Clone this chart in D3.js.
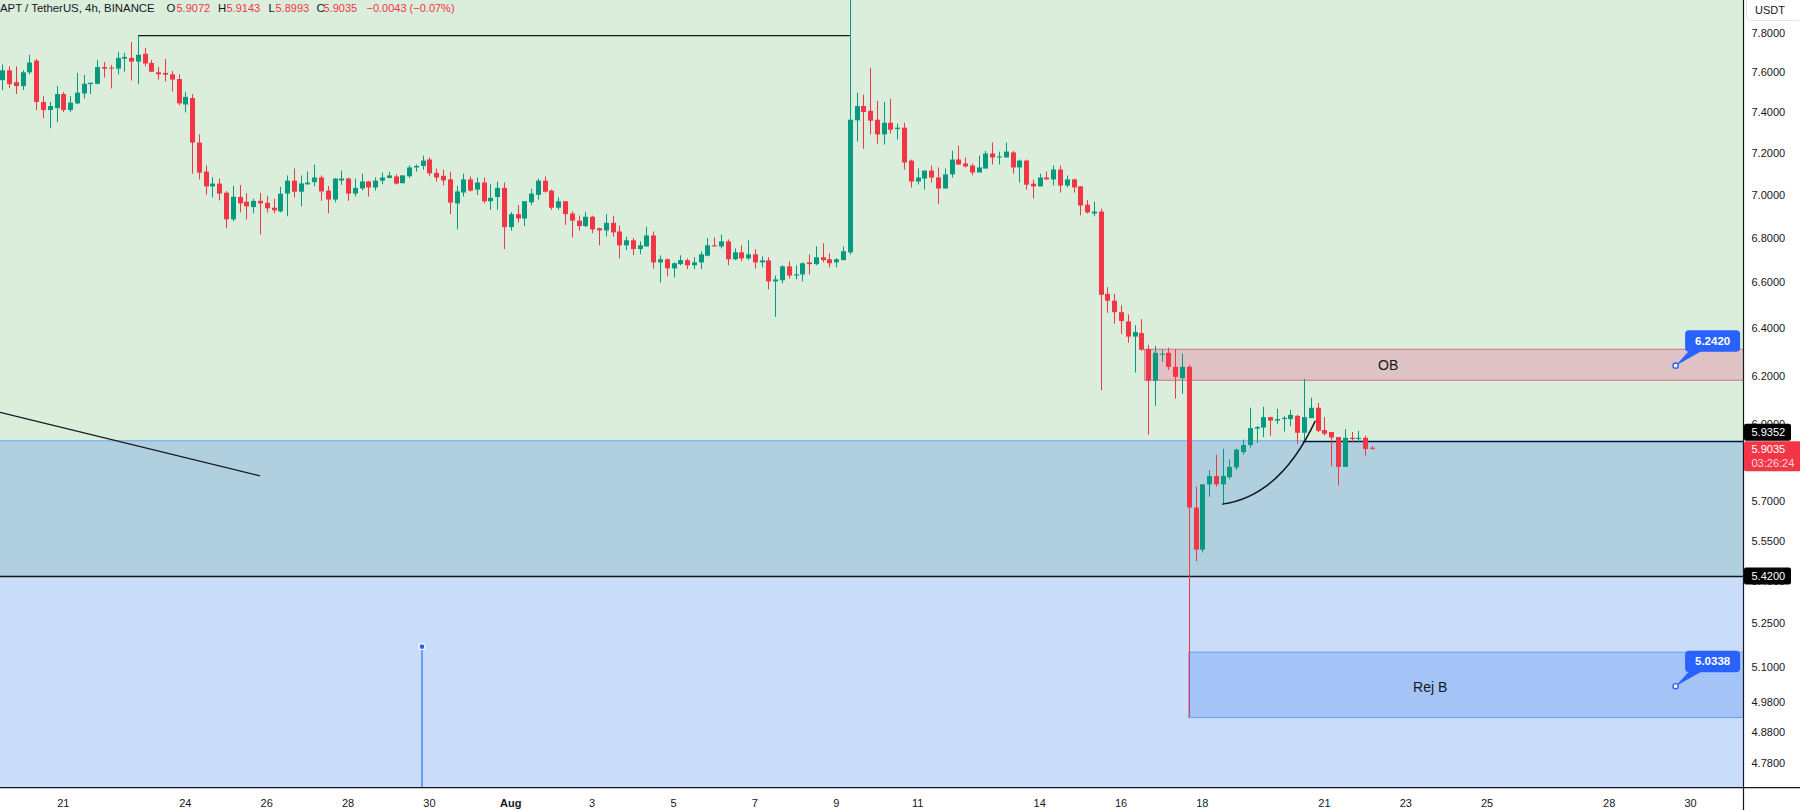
<!DOCTYPE html>
<html><head><meta charset="utf-8">
<script src="https://cdn.jsdelivr.net/npm/d3@7"></script>
<style>
body{margin:0;background:#fff;}
svg{display:block;font-family:"Liberation Sans",Arial,sans-serif;}
</style>
</head><body>
<svg id="chart" width="1800" height="810"></svg>
<script>
// ---------------- DATA ----------------
const firstBar = Date.UTC(2023, 6, 19, 12); // first visible 4h candle
const barHours = 4;
const opens = [
7.56,7.61,7.55,7.53,7.60,7.66,7.45,7.41,7.42,7.49,
7.41,7.443,7.493,7.54,7.542,7.627,7.624,7.619,7.67,7.674,
7.655,7.695,7.648,7.60,7.597,7.59,7.566,7.438,7.47,7.25,
7.11,7.04,7.053,7.01,6.886,6.99,6.968,6.943,6.972,6.963,
6.94,6.923,7.006,7.067,7.015,7.05,7.06,7.082,7.02,6.978,
7.068,7.077,7.006,7.03,7.063,7.035,7.067,7.08,7.087,7.055,
7.088,7.13,7.137,7.168,7.104,7.09,7.073,6.96,7.011,7.073,
7.025,7.058,6.97,6.99,7.033,6.85,6.91,6.89,6.965,7.0,
7.067,7.02,6.94,6.97,6.913,6.88,6.855,6.898,6.845,6.835,
6.87,6.83,6.767,6.79,6.75,6.762,6.812,6.69,6.704,6.663,
6.682,6.70,6.677,6.69,6.72,6.767,6.762,6.785,6.704,6.735,
6.708,6.726,6.69,6.699,6.605,6.61,6.672,6.631,6.636,6.69,
6.682,6.713,6.704,6.69,6.70,6.735,7.359,7.43,7.406,7.362,
7.29,7.347,7.316,7.323,7.163,7.063,7.077,7.115,7.082,7.03,
7.097,7.168,7.149,7.139,7.106,7.125,7.197,7.18,7.178,7.202,
7.13,7.163,7.053,7.04,7.082,7.073,7.12,7.044,7.073,7.04,
6.954,6.913,6.922,6.55,6.52,6.47,6.43,6.365,6.38,6.312,
6.18,6.289,6.296,6.237,6.19,6.237,5.675,5.517,5.764,5.796,
5.764,5.792,5.83,5.89,5.918,5.984,5.988,6.03,6.016,6.022,
6.022,6.035,5.967,6.026,6.068,5.978,5.97,5.95,5.832,5.947,
5.942,5.947,5.9072];
const highs = [
7.64,7.63,7.63,7.61,7.69,7.67,7.48,7.45,7.53,7.50,
7.48,7.597,7.587,7.547,7.663,7.653,7.637,7.705,7.70,7.756,
7.79,7.726,7.664,7.627,7.669,7.607,7.59,7.50,7.49,7.29,
7.139,7.082,7.077,7.018,7.042,7.046,7.009,6.982,7.009,6.995,
6.982,7.037,7.092,7.125,7.092,7.11,7.144,7.092,7.042,7.08,
7.115,7.082,7.077,7.10,7.066,7.082,7.106,7.11,7.097,7.092,
7.14,7.144,7.187,7.178,7.125,7.12,7.11,7.042,7.10,7.087,
7.082,7.082,7.05,7.063,7.058,6.92,6.952,6.97,7.028,7.077,
7.087,7.025,6.988,6.97,6.923,6.904,6.92,6.903,6.848,6.91,
6.903,6.857,6.806,6.80,6.785,6.852,6.83,6.722,6.708,6.69,
6.722,6.708,6.713,6.74,6.80,6.803,6.816,6.794,6.753,6.767,
6.79,6.749,6.717,6.713,6.631,6.677,6.695,6.677,6.69,6.726,
6.762,6.776,6.731,6.708,6.762,8.02,7.497,7.487,7.622,7.456,
7.45,7.466,7.342,7.347,7.168,7.125,7.115,7.139,7.13,7.125,
7.21,7.234,7.178,7.149,7.187,7.21,7.25,7.206,7.25,7.21,
7.168,7.168,7.072,7.10,7.11,7.139,7.139,7.092,7.077,7.04,
6.976,6.968,6.936,6.58,6.55,6.50,6.46,6.414,6.44,6.33,
6.325,6.31,6.317,6.31,6.292,6.245,5.756,5.764,5.82,5.88,
5.904,5.86,5.904,5.94,6.068,5.994,6.072,6.03,6.064,6.035,
6.06,6.039,6.187,6.109,6.088,6.03,5.97,5.95,5.982,5.97,
5.975,5.955,5.9143];
const lows = [
7.51,7.52,7.49,7.51,7.59,7.41,7.37,7.32,7.35,7.40,
7.40,7.44,7.468,7.49,7.538,7.573,7.518,7.59,7.603,7.558,
7.54,7.631,7.603,7.563,7.553,7.503,7.433,7.398,7.10,7.073,
7.001,6.988,6.974,6.845,6.877,6.918,6.886,6.914,6.817,6.918,
6.914,6.918,6.90,6.988,6.946,7.047,7.04,6.972,6.914,6.965,
7.047,6.972,6.992,7.021,6.992,7.02,7.05,7.078,7.048,7.055,
7.08,7.11,7.12,7.088,7.063,7.044,6.91,6.84,6.992,7.015,
7.0,6.96,6.93,6.93,6.75,6.834,6.872,6.855,6.952,6.978,
7.01,6.93,6.93,6.86,6.803,6.834,6.85,6.822,6.767,6.806,
6.806,6.708,6.745,6.722,6.727,6.762,6.662,6.60,6.627,6.622,
6.677,6.66,6.66,6.66,6.717,6.762,6.753,6.677,6.70,6.695,
6.70,6.662,6.668,6.57,6.45,6.596,6.618,6.614,6.605,6.636,
6.677,6.69,6.668,6.668,6.70,6.725,7.255,7.22,7.29,7.245,
7.24,7.294,7.265,7.12,7.035,7.048,7.025,7.058,6.958,7.03,
7.082,7.144,7.13,7.092,7.106,7.125,7.144,7.144,7.178,7.10,
7.058,7.025,6.983,7.04,7.073,7.044,7.01,7.035,7.01,6.904,
6.913,6.90,6.14,6.467,6.42,6.376,6.339,6.213,6.305,5.959,
6.076,6.258,6.224,6.105,6.125,4.93,5.474,5.506,5.716,5.756,
5.685,5.784,5.82,5.88,5.908,5.926,5.95,5.955,6.002,5.972,
5.994,5.923,5.93,6.026,5.97,5.955,5.835,5.76,5.832,5.93,
5.93,5.876,5.8993];
const closes = [
7.61,7.54,7.53,7.60,7.65,7.45,7.41,7.43,7.49,7.41,
7.447,7.497,7.542,7.547,7.627,7.619,7.619,7.674,7.679,7.655,
7.69,7.645,7.603,7.59,7.588,7.563,7.443,7.476,7.25,7.105,
7.04,7.053,7.006,6.886,6.991,6.96,6.946,6.972,6.96,6.937,
6.928,7.005,7.067,7.015,7.054,7.058,7.082,7.016,6.978,7.077,
7.077,7.006,7.033,7.063,7.035,7.067,7.082,7.092,7.053,7.092,
7.13,7.137,7.163,7.102,7.082,7.068,6.964,7.016,7.073,7.02,
7.058,6.97,6.986,7.033,6.85,6.91,6.89,6.97,7.006,7.067,
7.015,6.94,6.97,6.91,6.88,6.855,6.898,6.84,6.835,6.87,
6.826,6.767,6.79,6.75,6.767,6.812,6.69,6.704,6.663,6.686,
6.70,6.677,6.69,6.726,6.767,6.762,6.785,6.704,6.735,6.708,
6.726,6.69,6.699,6.605,6.614,6.672,6.631,6.636,6.686,6.682,
6.713,6.70,6.686,6.704,6.74,7.362,7.43,7.40,7.357,7.29,
7.347,7.313,7.323,7.154,7.063,7.082,7.115,7.082,7.03,7.097,
7.168,7.144,7.135,7.106,7.13,7.197,7.178,7.183,7.206,7.13,
7.163,7.048,7.04,7.082,7.073,7.12,7.044,7.073,7.035,6.95,
6.918,6.922,6.546,6.52,6.47,6.432,6.365,6.384,6.309,6.18,
6.296,6.292,6.237,6.195,6.237,5.675,5.517,5.764,5.796,5.764,
5.796,5.832,5.90,5.918,5.986,5.99,6.03,6.016,6.022,6.027,
6.039,5.967,6.03,6.068,5.975,5.963,5.948,5.832,5.947,5.942,
5.947,5.903,5.9035];

const yTickValues = [7.8,7.6,7.4,7.2,7.0,6.8,6.6,6.4,6.2,6.0,5.7,5.55,5.4,5.25,5.1,4.98,4.88,4.78];
const xTickDates = [[6,21],[6,24],[6,26],[6,28],[6,30],[7,1],[7,3],[7,5],[7,7],[7,9],[7,11],[7,14],[7,16],[7,18],[7,21],[7,23],[7,25],[7,28],[7,30]];
const xTickLabels = ["21","24","26","28","30","Aug","3","5","7","9","11","14","16","18","21","23","25","28","30"];

const headerSymbol = "APT / TetherUS, 4h, BINANCE";
const headerOHLC = [["O","5.9072"],["H","5.9143"],["L","5.8993"],["C","5.9035"]];
const headerChange = "\u22120.0043 (\u22120.07%)";

const zoneUpper = 5.9352;      // top of support zone
const zoneLower = 5.42;        // bottom of support zone
const obZone = [6.311, 6.181]; const obStartBar = 168.5; const obLabel = "OB";
const rejZone = [5.15, 4.929]; const rejStartBar = 175; const rejLabel = "Rej B";
const callouts = [{bar: 246.8, price: 6.2420, text: "6.2420"}, {bar: 246.8, price: 5.0338, text: "5.0338"}];
const topLine = {fromBar: 20, toBar: 125, price: 7.79};
const trendLine = [{bar: -0.34, price: 6.049}, {bar: 38.0, price: 5.797}];
const vMarker = {bar: 61.9, price: 5.169};
const arcPts = [{bar: 179.94, price: 5.688}, {bar: 188.45, price: 5.718}, {bar: 193.66, price: 6.015}];
const lineStartBar = 191.8;
const lastPrice = 5.9035, countdown = "03:26:24";

// ---------------- SCALES ----------------
const W = 1743, H = 787.7;
const svg = d3.select("#chart");
const x = d3.scaleUtc()
  .domain([new Date(Date.UTC(2023,6,19,10,38)), new Date(Date.UTC(2023,7,31,6,58))])
  .range([0, W]);
const y = d3.scaleLog().domain([4.7023, 7.978]).range([H, 0]);
const barTime = i => new Date(firstBar + i * barHours * 3600e3);
const bx = i => x(barTime(i));

const GREEN = "#089981", RED = "#f23645";

svg.append("rect").attr("width",1800).attr("height",810).attr("fill","#ffffff");
svg.append("defs").append("clipPath").attr("id","plot")
  .append("rect").attr("x",0).attr("y",0).attr("width",W).attr("height",H);
const plot = svg.append("g").attr("clip-path","url(#plot)");

// background zones
plot.append("rect").attr("x",0).attr("y",0).attr("width",W).attr("height",y(zoneUpper)).attr("fill","#daeedb");
plot.append("rect").attr("x",0).attr("y",y(zoneUpper)).attr("width",W).attr("height",y(zoneLower)-y(zoneUpper)).attr("fill","#b0d0e0");
plot.append("rect").attr("x",0).attr("y",y(zoneLower)).attr("width",W).attr("height",H-y(zoneLower)).attr("fill","#c9ddfa");
plot.append("line").attr("x1",0).attr("x2",W).attr("y1",y(zoneUpper)).attr("y2",y(zoneUpper)).attr("stroke","#6fa8f2").attr("stroke-width",1);

// OB zone
plot.append("rect").attr("x",bx(obStartBar)).attr("y",y(obZone[0])).attr("width",W-bx(obStartBar)+5)
  .attr("height",y(obZone[1])-y(obZone[0])).attr("fill","#dfc2c3").attr("stroke","#d27590").attr("stroke-width",1);
// Rej B zone
plot.append("rect").attr("x",bx(rejStartBar)).attr("y",y(rejZone[0])).attr("width",W-bx(rejStartBar)+5)
  .attr("height",y(rejZone[1])-y(rejZone[0])).attr("fill","#a4c4f8").attr("stroke","#6f9ff0").attr("stroke-width",1);

// lines
plot.append("line").attr("x1",0).attr("x2",W).attr("y1",Math.round(y(zoneLower))+0.5).attr("y2",Math.round(y(zoneLower))+0.5).attr("stroke","#131722").attr("stroke-width",1.3);
plot.append("line").attr("x1",bx(lineStartBar)).attr("x2",W).attr("y1",y(zoneUpper)+0.8).attr("y2",y(zoneUpper)+0.8).attr("stroke","#131722").attr("stroke-width",1.3);
plot.append("line").attr("x1",bx(topLine.fromBar)).attr("x2",bx(topLine.toBar)).attr("y1",y(topLine.price)).attr("y2",y(topLine.price)).attr("stroke","#131722").attr("stroke-width",1.2);
plot.append("line").attr("x1",bx(trendLine[0].bar)).attr("y1",y(trendLine[0].price)).attr("x2",bx(trendLine[1].bar)).attr("y2",y(trendLine[1].price)).attr("stroke","#131722").attr("stroke-width",1.2);

// vertical blue marker
plot.append("line").attr("x1",bx(vMarker.bar)).attr("x2",bx(vMarker.bar)).attr("y1",y(vMarker.price)).attr("y2",H).attr("stroke","#6b9cf6").attr("stroke-width",2);
plot.append("circle").attr("cx",bx(vMarker.bar)).attr("cy",y(vMarker.price)).attr("r",3).attr("fill","#2962ff").attr("stroke","#fff").attr("stroke-width",1.2);

// candles
const idx = d3.range(opens.length);
const bodyW = 5;
plot.append("g").selectAll("line").data(idx).join("line")
  .attr("x1", i => Math.round(bx(i)) + 0.5).attr("x2", i => Math.round(bx(i)) + 0.5)
  .attr("y1", i => y(highs[i])).attr("y2", i => y(lows[i]))
  .attr("stroke", i => closes[i] >= opens[i] ? GREEN : RED).attr("stroke-width", 1);
plot.append("g").selectAll("rect").data(idx).join("rect")
  .attr("x", i => Math.round(bx(i)) - 2)
  .attr("width", bodyW)
  .attr("y", i => y(Math.max(opens[i], closes[i])))
  .attr("height", i => Math.max(1, y(Math.min(opens[i], closes[i])) - y(Math.max(opens[i], closes[i]))))
  .attr("fill", i => closes[i] >= opens[i] ? GREEN : RED);

// arc
const arc = d3.path();
arc.moveTo(bx(arcPts[0].bar), y(arcPts[0].price));
arc.quadraticCurveTo(bx(arcPts[1].bar), y(arcPts[1].price), bx(arcPts[2].bar), y(arcPts[2].price));
plot.append("path").attr("d", arc.toString()).attr("fill","none").attr("stroke","#131722").attr("stroke-width",1.5);

// zone texts
plot.append("text").attr("x", bx(204.4)).attr("y", (y(obZone[0])+y(obZone[1]))/2).attr("dy","0.35em")
  .attr("text-anchor","middle").attr("font-size",14).attr("fill","#131722").text(obLabel);
plot.append("text").attr("x", bx(210.6)).attr("y", (y(rejZone[0])+y(rejZone[1]))/2 + 2).attr("dy","0.35em")
  .attr("text-anchor","middle").attr("font-size",14).attr("fill","#131722").text(rejLabel);

// callouts
callouts.forEach(c => {
  const ax = bx(c.bar), ay = y(c.price);
  const bxl = ax + 9.5, byt = ay - 35.5, bw = 55, bh = 21.5;
  plot.append("path").attr("d", `M${ax},${ay} L${bxl+4},${byt+bh-1} L${bxl+17},${byt+bh-1} Z`).attr("fill","#2962ff");
  plot.append("rect").attr("x",bxl).attr("y",byt).attr("width",bw).attr("height",bh).attr("rx",4).attr("fill","#2962ff");
  plot.append("text").attr("x",bxl+bw/2).attr("y",byt+bh/2).attr("dy","0.35em").attr("text-anchor","middle")
    .attr("font-size",11.5).attr("font-weight","bold").attr("fill","#fff").text(c.text);
  plot.append("circle").attr("cx",ax).attr("cy",ay).attr("r",2.6).attr("fill","#fff").attr("stroke","#2962ff").attr("stroke-width",1.4);
});

// header (pieces placed like the reference legend)
const hdr = svg.append("g").attr("font-size",11.4);
hdr.append("text").attr("x",0).attr("y",11.5).attr("fill","#131722").text(headerSymbol);
const hdrLetterX = [166.5, 218, 268.5, 316.5];
const hdrValueX = [176.5, 226.5, 275.5, 323.5];
headerOHLC.forEach((d,k) => {
  hdr.append("text").attr("x",hdrLetterX[k]).attr("y",11.5).attr("fill","#131722").text(d[0]);
  hdr.append("text").attr("x",hdrValueX[k]).attr("y",11.5).attr("fill",RED).attr("font-size",11).text(d[1]);
});
hdr.append("text").attr("x",366.5).attr("y",11.5).attr("fill",RED).attr("font-size",11).text(headerChange);

// axes frame
svg.append("line").attr("x1",W+0.5).attr("x2",W+0.5).attr("y1",0).attr("y2",810).attr("stroke","#131722").attr("stroke-width",1.2);
svg.append("line").attr("x1",0).attr("x2",1800).attr("y1",H).attr("y2",H).attr("stroke","#131722").attr("stroke-width",1.2);

// y tick labels
svg.append("g").selectAll("text").data(yTickValues).join("text")
  .attr("x", W + 8.5).attr("y", d => y(d)).attr("dy","0.35em")
  .attr("font-size",11).attr("fill","#131722").text(d => d3.format(".4f")(d));

// x tick labels
svg.append("g").selectAll("text").data(xTickDates).join("text")
  .attr("x", d => x(new Date(Date.UTC(2023, d[0], d[1])))).attr("y", 803).attr("dy","0.35em")
  .attr("text-anchor","middle").attr("font-size",11).attr("fill","#131722")
  .attr("font-weight", (d,k) => xTickLabels[k] === "Aug" ? "bold" : "normal")
  .text((d,k) => xTickLabels[k]);

// USDT label
svg.append("rect").attr("x",1746.5).attr("y",-4).attr("width",56).attr("height",24.5).attr("rx",4)
  .attr("fill","#fff").attr("stroke","#e0e3eb");
svg.append("text").attr("x",1770).attr("y",10).attr("dy","0.35em").attr("text-anchor","middle")
  .attr("font-size",11).attr("fill","#131722").text("USDT");

// price labels on axis
function priceTag(yc, h, fill, w) {
  svg.append("rect").attr("x",W+1).attr("y",yc - h/2).attr("width",w).attr("height",h).attr("rx",2).attr("fill",fill);
}
// 5.9352 (shifted up to avoid overlap with last price)
const yUp = y(zoneUpper) - 8.5;
priceTag(yUp, 17, "#000000", 47);
svg.append("text").attr("x",W+8.5).attr("y",yUp).attr("dy","0.35em").attr("font-size",11).attr("fill","#fff").text(d3.format(".4f")(zoneUpper));
// last price
const yl = y(lastPrice);
svg.append("rect").attr("x",W+1).attr("y",yl-7.5).attr("width",57).attr("height",30).attr("rx",2).attr("fill",RED);
svg.append("text").attr("x",W+8.5).attr("y",yl).attr("dy","0.35em").attr("font-size",11).attr("fill","#fff").text(d3.format(".4f")(lastPrice));
svg.append("text").attr("x",W+8.5).attr("y",yl+14.5).attr("dy","0.35em").attr("font-size",11).attr("fill","#ffd6da").text(countdown);
// 5.4200
const ylo = y(zoneLower);
priceTag(ylo, 17, "#000000", 47);
svg.append("text").attr("x",W+8.5).attr("y",ylo).attr("dy","0.35em").attr("font-size",11).attr("fill","#fff").text(d3.format(".4f")(zoneLower));
</script>
</body></html>
